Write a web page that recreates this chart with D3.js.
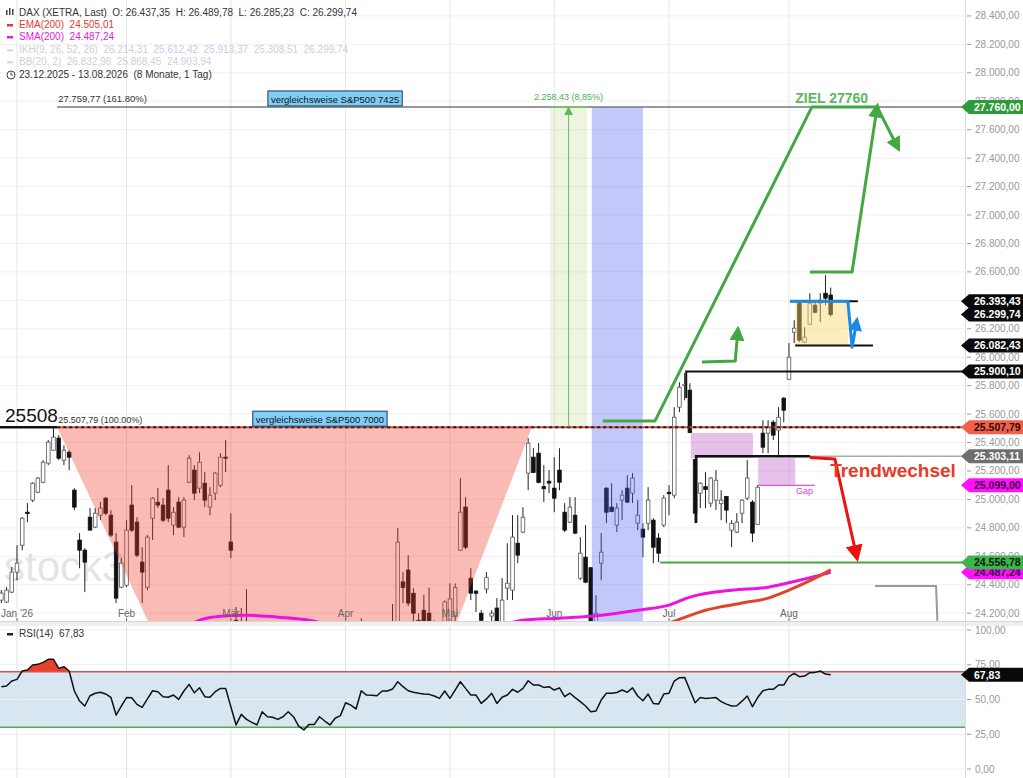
<!DOCTYPE html>
<html><head><meta charset="utf-8">
<script src="https://cdn.jsdelivr.net/npm/d3@7"></script>
<style>
body{margin:0;background:#fff;}
svg{display:block;font-family:"Liberation Sans",Arial,sans-serif;}
.pre{white-space:pre;}
</style>
</head><body>
<svg id="c" width="1023" height="778"></svg>
<script>
// ---------------- DATA ----------------
// daily candles [open, high, low, close], 23.12.2025 .. 13.08.2026
const ohlc = [
 [24292,24362,24271,24341],[24278,24383,24271,24362],[24348,24524,24341,24489],[24489,24678,24432,24552],[24678,24875,24643,24868],
 [24910,24974,24840,24900],[24995,25121,24981,25114],[25051,25157,25044,25150],[25121,25276,25114,25262],[25255,25417,25241,25403],
 [25346,25500,25346,25438],[25431,25452,25276,25290],[25276,25381,25241,25346],[25332,25346,25206,25297],[25065,25079,24925,24946],
 [24714,24763,24516,24643],[24643,24657,24348,24559],[24875,24939,24784,24784],[24805,24939,24798,24903],[24889,24981,24854,24939],
 [25009,25016,24889,24903],[24889,24925,24735,24749],[24700,24763,24271,24306],[24383,24587,24376,24552],[24397,24854,24383,24784],
 [24960,25100,24770,24784],[24840,24875,24594,24608],[24559,24664,24271,24489],[24383,24749,24362,24735],[24868,25016,24714,25009],
 [24980,25079,24939,24960],[24960,25009,24840,24854],[25065,25241,24840,24868],[24819,24946,24749,24910],[24981,25016,24798,24805],
 [24805,25016,24735,24995],[25121,25311,25114,25290],[25206,25241,24995,25044],[25079,25332,25044,25262],[25114,25192,24946,24995],
 [24946,25086,24889,25030],[25044,25192,24995,25185],[25100,25325,25086,25297],[25297,25417,25192,25290],[24700,24903,24587,24643],
 [24150,24243,23950,24000],[24020,24236,23900,24130],[24140,24369,23950,24060],[24050,24120,23800,23850],[23850,23900,23550,23600],
 [23600,23950,23550,23900],[23900,23950,23650,23700],[23700,23800,23550,23650],[23650,23700,23400,23450],[23450,23650,23400,23600],
 [23600,23850,23550,23800],[23800,23850,23500,23550],[23550,23600,23150,23200],[23200,23300,22900,23000],[23000,23300,22950,23250],
 [23250,23350,23050,23200],[23200,23550,23150,23500],[23500,23550,23250,23300],[23300,23350,23000,23100],[23100,23450,23050,23400],
 [23400,23600,23350,23550],[23550,23950,23500,23900],[23900,24000,23750,23850],[23850,23900,23650,23750],[23750,24165,23700,24100],
 [24100,24130,23900,24000],[24000,24080,23880,23980],[23980,24050,23850,23960],[23960,24120,23900,24080],[24080,24130,23950,24060],
 [24060,24264,24000,24140],[24140,24798,24100,24700],[24420,24489,24271,24380],[24503,24608,24250,24271],[24340,24376,24100,24200],
 [24150,24200,23950,24050],[24220,24330,24000,24120],[24200,24380,23980,24100],[24080,24150,23950,24120],[24100,24120,23980,24060],
 [24100,24290,24050,24280],[24120,24410,24050,24300],[24180,24410,24100,24380],[24643,25149,24640,24910],[24946,25016,24650,24664],
 [24446,24516,24292,24341],[24355,24362,24208,24340],[24200,24221,24100,24150],[24370,24489,24340,24450],[24180,24221,24050,24200],
 [24236,24306,24000,24100],[24120,24447,24050,24292],[24376,24692,24292,24411],[24362,24889,24292,24735],[24692,24889,24552,24608],
 [24770,24946,24763,24875],[25185,25431,25065,25396],[25297,25360,25185,25190],[25325,25396,25114,25120],[25090,25241,24981,25075],
 [25128,25206,25044,25115],[25079,25297,24910,25009],[25206,25360,25065,25121],[24910,24974,24770,24784],[24840,25016,24835,24946],
 [24889,25016,24755,24763],[24446,24735,24432,24622],[24594,24819,24411,24418],[24520,24520,24000,24080],[24100,24327,24000,24200],
 [24552,24763,24432,24629],[25079,25086,24833,24910],[24946,25114,24910,24915],[24819,24974,24770,24939],[24995,25065,24854,25030],
 [25079,25170,24974,24981],[25044,25185,24974,25150],[24833,24995,24784,24889],[24791,24833,24594,24735],[24833,25086,24784,24995],
 [24854,24868,24552,24664],[24728,24763,24559,24622],[24819,25030,24805,25009],[25050,25100,24889,25040],[25030,25649,25009,25578],
 [25649,25824,25613,25789],[25800,25888,25698,25810],[25768,25817,25466,25470],[25280,25280,24833,24903],[25044,25121,24939,25114],
 [25090,25192,24939,25070],[24974,25157,24946,25150],[24995,25206,24925,25135],[24970,25065,24854,24995],[25020,25020,24833,24925],
 [24784,24854,24664,24830],[24770,24903,24763,24840],[24903,25000,24833,24995],[25009,25276,24995,25150],[24981,24995,24700,24763],
 [24825,25100,24825,25086],[25466,25557,25325,25367],[25466,25557,25325,25508],[25543,25557,25417,25452],[25487,25649,25297,25578],
 [25712,25719,25543,25627],[25845,26099,25845,26000],[26176,26260,26099,26204],[26380,26387,26106,26120],[26106,26211,26099,26141],
 [26232,26450,26232,26380],[26366,26401,26310,26316],[26380,26450,26246,26401],[26450,26577,26366,26415],[26437.35,26489.78,26285.23,26299.74]
];
const rsi = [
 59.2,59.7,63.3,64.5,70.5,71.2,74.8,75.3,76.7,78.9,
 78.9,72.4,73.6,70.5,56.1,48.9,45.3,52.7,54.5,55.2,
 54.0,51.6,38.8,45.3,51.4,51.2,46.5,44.4,50.4,56.3,
 55.6,52.0,51.6,53.2,50.1,56.1,60.9,54.8,58.4,52.0,
 51.6,55.6,58.0,58.0,44.8,31.7,39.3,35.7,33.6,31.7,
 41.2,37.6,37.2,35.7,37.6,41.2,37.6,30.9,28.1,32.1,
 32.1,37.6,34.5,31.7,36.5,38.4,47.7,46.0,43.2,56.3,
 53.2,53.0,52.7,56.1,56.1,57.5,62.8,59.2,56.3,55.2,
 54.5,54.0,53.7,52.5,50.8,56.1,50.8,56.8,62.8,58.0,
 53.2,53.2,47.2,50.4,54.5,47.2,51.6,53.2,57.3,55.2,
 58.0,63.5,60.4,60.4,58.7,59.2,56.8,58.4,52.0,54.5,
 51.4,48.5,45.3,41.2,41.7,49.6,54.5,54.5,55.0,56.8,
 55.2,58.4,52.5,49.1,53.9,47.2,46.7,53.9,54.5,63.3,
 65.7,65.9,56.8,47.7,51.4,50.8,51.0,51.4,48.5,46.7,
 45.3,45.5,48.8,52.5,44.8,51.4,56.3,57.3,57.3,60.4,
 60.4,66.4,68.8,66.4,66.9,69.3,69.5,70.5,68.3,67.83
];
// moving averages [candle index, value]
const smaPts = [[30,24060],[36,24116],[38,24151],[42,24179],[47,24186],[53,24172],[59,24151],[63,24120],[80,24080],[96,24120],[100,24151],[107,24165],[113,24179],[115,24186],[122,24221],[128,24257],[132,24313],[140,24362],[147,24383],[153,24432],[159,24487.24]];
const emaPts = [[120,24050],[129,24144],[135,24221],[142,24271],[147,24306],[151,24362],[156,24446],[159,24505.01]];

const priceTicks = [24200,24400,24600,24800,25000,25200,25400,25600,25800,26000,26200,26400,26600,26800,27000,27200,27400,27600,27800,28000,28200,28400];
const rsiTicks = [0,25,50,75,100];
const rsiBands = [30,70];
const rsiLast = 67.83;
const monthNames = ["Jan '26","Feb","Mär","Apr","Mai","Jun","Jul","Aug"];
const startDate = "2025-12-23";
const holidays = ["2025-12-24","2025-12-25","2025-12-26","2025-12-31","2026-01-01","2026-04-03","2026-04-06","2026-05-01"];

// drawn analysis objects, in [candle index, price]
const fib161 = 27759.77, fib100 = 25507.79, fibStart = 10.7;
const fibMove = "2.258,43 (8,85%)";
const greenBand = [105.2, 112.3];
const blueBand = [113.2, 123.0];
const triangle = [[10.7,25508],[101.7,25508],[83.8,23800],[32.5,23800]];
const targetPath = [[115.3,25551],[125.3,25551],[155.4,27760],[168.1,27760]];
const targetPath2 = [[155.0,26600],[163.1,26600],[167.9,27760]];
const targetPath3 = [[167.9,27760],[171.9,27471]];
const smallArrow = [[134.3,25966],[140.7,25973],[141.2,26191]];
const resistance = [131.3, 25900.10, 25713];
const trendBracket = [[133.2,24834],[133.2,25303.11],[155.0,25303.11]];
const trendGrey = [149.3, 25303.11];
const redArrow = [[155.0,25295],[159.8,25285],[164.0,24595]];
const gap1 = [132.2,144.1,25467,25291];
const gap2 = [145.1,152.2,25290,25099];
const gapLine = [145.1,156.0,25099];
const consBox = [152.2,162.3,26393.43,26082.43];
const bluePath = [[151.2,26393.43],[162.3,26393.43],[163.1,26070],[164.0,26255]];
const consTopLine = [151.2,164.2,26393.43];
const consBotLine = [152.2,167.1,26082.43];
const supportLine = [126.3, 24556.78];
const greyPath = [[167.5,24391],[179.2,24391],[179.6,24000]];
const zielText = [152.2, 27760, "ZIEL 27760"];
const trendText = [158.9, 25158, "Trendwechsel"];
const gapText = [154, 25038, "Gap"];
const spBoxes = [[51.1, 27760, "vergleichsweise S&P500 7425"],[48.2, 25508, "vergleichsweise S&P500 7000"]];
const tagValues = [27760.00, 26393.43, 26299.74, 26082.43, 25900.10, 25507.79, 25303.11, 25099.00, 24487.24, 24556.78];

// ---------------- LAYOUT ----------------
const W=1023, H=778, PR=965, MB=621, RT=626;
const tagStyle = ["g","k","k","k","k","r","grey","m","m","g2"];
const de = d3.formatLocale({decimal:",", thousands:".", grouping:[3], currency:["","€"]});
const f2 = de.format(",.2f");

// trading dates
const dates = [];
{
  let d = d3.timeParse("%Y-%m-%d")(startDate);
  const hol = new Set(holidays);
  const fmt = d3.timeFormat("%Y-%m-%d");
  while (dates.length < ohlc.length) {
    const wd = d.getDay();
    if (wd !== 0 && wd !== 6 && !hol.has(fmt(d))) dates.push(new Date(d));
    d = d3.timeDay.offset(d, 1);
  }
}
const monthStarts = [];
dates.forEach((d,i)=>{ if (d.getFullYear()===2026 && (i===0 || dates[i-1].getMonth()!==d.getMonth())) monthStarts.push(i); });

const x = d3.scaleLinear().domain([0, ohlc.length-1]).range([1.35, 830.7]);
const y = d3.scaleLinear().domain([24145, 28512]).range([MB, 0]);
const ry = d3.scaleLinear().domain([0,100]).range([769, 630]);
const iR = x.invert(PR);

const svg = d3.select('#c');
const defs = svg.append('defs');
defs.append('clipPath').attr('id','cm').append('rect').attr('x',0).attr('y',0).attr('width',PR).attr('height',MB);
defs.append('clipPath').attr('id','cr').append('rect').attr('x',0).attr('y',RT).attr('width',PR).attr('height',H-RT);
function marker(id, color, s){
  defs.append('marker').attr('id',id).attr('viewBox','0 0 10 10').attr('refX',7).attr('refY',5)
    .attr('markerWidth',s).attr('markerHeight',s).attr('markerUnits','userSpaceOnUse').attr('orient','auto')
    .append('path').attr('d','M0,0L10,5L0,10z').attr('fill',color);
}
const GREEN = '#43a843', RED = '#f01010', BLUE = '#1e88e5';
marker('ag', GREEN, 15); marker('ar', RED, 17); marker('ab', BLUE, 14); marker('agt', '#5fb85f', 9);

svg.append('rect').attr('width',W).attr('height',H).attr('fill','#fff');

const line = d3.line().x(d=>x(d[0])).y(d=>y(d[1]));

// ---- main panel ----
const main = svg.append('g').attr('clip-path','url(#cm)');
main.selectAll('line.hg').data(priceTicks).join('line')
  .attr('x1',0).attr('x2',PR).attr('y1',d=>y(d)).attr('y2',d=>y(d)).attr('stroke','#f0f0f0');
main.selectAll('line.vg').data(monthStarts).join('line')
  .attr('x1',d=>x(d)).attr('x2',d=>x(d)).attr('y1',0).attr('y2',MB).attr('stroke','#e6e6e6');
main.append('text').attr('x',4).attr('y',581).attr('font-size',42).attr('fill','#000').attr('opacity',0.1).text('stock3');

// green measuring band (under candles)
main.append('rect').attr('x',x(greenBand[0])).attr('width',x(greenBand[1])-x(greenBand[0]))
  .attr('y',y(fib161)).attr('height',y(fib100)-y(fib161)).attr('fill','rgb(140,190,60)').attr('opacity',0.16);

// candles
const bw = 3.6;
const cg = main.append('g');
cg.selectAll('line').data(ohlc).join('line')
  .attr('x1',(d,i)=>x(i)).attr('x2',(d,i)=>x(i)).attr('y1',d=>y(d[1])).attr('y2',d=>y(d[2]))
  .attr('stroke','#222').attr('stroke-width',1);
cg.selectAll('rect').data(ohlc).join('rect')
  .attr('x',(d,i)=>x(i)-bw/2).attr('width',bw)
  .attr('y',d=>y(Math.max(d[0],d[3]))).attr('height',d=>Math.max(1,Math.abs(y(d[0])-y(d[3]))))
  .attr('fill',d=>d[3]>=d[0]?'#fff':'#111').attr('stroke',d=>d[3]>=d[0]?'#555':'#111').attr('stroke-width',0.8);

// translucent overlays
main.append('path').attr('d',line(triangle)+'Z').attr('fill','rgb(240,60,40)').attr('opacity',0.35);
main.append('rect').attr('x',x(blueBand[0])).attr('width',x(blueBand[1])-x(blueBand[0]))
  .attr('y',y(fib161)).attr('height',MB-y(fib161)).attr('fill','rgb(80,100,240)').attr('opacity',0.35);
[gap1,gap2].forEach(g=>main.append('rect').attr('x',x(g[0])).attr('width',x(g[1])-x(g[0]))
  .attr('y',y(g[2])).attr('height',y(g[3])-y(g[2])).attr('fill','rgb(190,100,200)').attr('opacity',0.4));
main.append('rect').attr('x',x(consBox[0])).attr('width',x(consBox[1])-x(consBox[0]))
  .attr('y',y(consBox[2])).attr('height',y(consBox[3])-y(consBox[2])).attr('fill','rgb(250,215,110)').attr('opacity',0.45);

// moving averages
const curve = d3.line().x(d=>x(d[0])).y(d=>y(d[1])).curve(d3.curveMonotoneX);
main.append('path').attr('d',curve(smaPts)).attr('fill','none').attr('stroke','#f010e0').attr('stroke-width',3);
main.append('path').attr('d',curve(emaPts)).attr('fill','none').attr('stroke','#e0452a').attr('stroke-width',3);

// fib levels
main.append('line').attr('x1',x(fibStart)).attr('x2',PR).attr('y1',y(fib161)).attr('y2',y(fib161)).attr('stroke','#777').attr('stroke-width',1.6);
main.append('line').attr('x1',0).attr('x2',x(fibStart)).attr('y1',y(fib100)).attr('y2',y(fib100)).attr('stroke','#111').attr('stroke-width',2.5);
main.append('line').attr('x1',x(fibStart)).attr('x2',PR).attr('y1',y(fib100)).attr('y2',y(fib100)).attr('stroke','#d84a3a').attr('stroke-width',2);
main.append('line').attr('x1',x(fibStart)).attr('x2',PR).attr('y1',y(fib100)).attr('y2',y(fib100)).attr('stroke','#222').attr('stroke-width',2).attr('stroke-dasharray','3,3');

// measuring arrow
const mid = (greenBand[0]+greenBand[1])/2;
main.append('line').attr('x1',x(greenBand[0])).attr('x2',x(greenBand[1])).attr('y1',y(fib161)).attr('y2',y(fib161)).attr('stroke','#7cc46c').attr('stroke-width',1.5);
main.append('line').attr('x1',x(mid)).attr('x2',x(mid)).attr('y1',y(fib100)).attr('y2',y(fib161)+2).attr('stroke','#6dbb5d').attr('stroke-width',1).attr('marker-end','url(#agt)');

// levels & brackets
main.append('path').attr('d',line([[resistance[0],resistance[2]],[resistance[0],resistance[1]],[iR,resistance[1]]])).attr('fill','none').attr('stroke','#111').attr('stroke-width',2);
main.append('line').attr('x1',x(trendGrey[0])).attr('x2',PR).attr('y1',y(trendGrey[1])).attr('y2',y(trendGrey[1])).attr('stroke','#aaa').attr('stroke-width',1.5);
main.append('path').attr('d',line(trendBracket)).attr('fill','none').attr('stroke','#111').attr('stroke-width',2.5);
main.append('line').attr('x1',x(supportLine[0])).attr('x2',PR).attr('y1',y(supportLine[1])).attr('y2',y(supportLine[1])).attr('stroke','#43a843').attr('stroke-width',2);
main.append('line').attr('x1',x(gapLine[0])).attr('x2',x(gapLine[1])).attr('y1',y(gapLine[2])).attr('y2',y(gapLine[2])).attr('stroke','#e84ee8').attr('stroke-width',1.2);
main.append('line').attr('x1',x(consTopLine[0])).attr('x2',x(consTopLine[1])).attr('y1',y(consTopLine[2])).attr('y2',y(consTopLine[2])).attr('stroke','#111').attr('stroke-width',2);
main.append('line').attr('x1',x(consBotLine[0])).attr('x2',x(consBotLine[1])).attr('y1',y(consBotLine[2])).attr('y2',y(consBotLine[2])).attr('stroke','#111').attr('stroke-width',2);
main.append('path').attr('d',line(greyPath)).attr('fill','none').attr('stroke','#999').attr('stroke-width',2);

// drawn arrows
const pth = (pts, col, w, mk) => { const p = main.append('path').attr('d',line(pts)).attr('fill','none').attr('stroke',col).attr('stroke-width',w).attr('stroke-linejoin','round'); if(mk) p.attr('marker-end',`url(#${mk})`); };
pth(targetPath, GREEN, 3);
pth(targetPath2, GREEN, 3, 'ag');
pth(targetPath3, GREEN, 3, 'ag');
pth(smallArrow, GREEN, 3, 'ag');
pth(redArrow, RED, 3, 'ar');
pth(bluePath, BLUE, 3, 'ab');

// texts
main.append('text').attr('x',x(fibStart)+1).attr('y',y(fib161)-5).attr('font-size',9.5).attr('fill','#333').text(f2(fib161)+' (161.80%)');
main.append('text').attr('x',5).attr('y',y(fib100)-5).attr('font-size',19).attr('fill','#111').text(d3.format('d')(Math.round(fib100)));
main.append('text').attr('x',x(fibStart)+1).attr('y',y(fib100)-4).attr('font-size',9).attr('fill','#333').text(f2(fib100)+' (100.00%)');
main.append('text').attr('x',x(mid)).attr('y',y(fib161)-7).attr('text-anchor','middle').attr('font-size',9).attr('fill','#4caf50').text(fibMove);
main.append('text').attr('x',x(zielText[0])).attr('y',y(zielText[1])-4).attr('font-size',14).attr('font-weight','bold').attr('fill','#5cb85c').text(zielText[2]);
main.append('text').attr('x',x(trendText[0])).attr('y',y(trendText[1])).attr('font-size',19).attr('font-weight','bold').attr('fill','#e8392b').text(trendText[2]);
main.append('text').attr('x',x(gapText[0])).attr('y',y(gapText[1])).attr('text-anchor','middle').attr('font-size',9).attr('fill','#e040e0').text(gapText[2]);
spBoxes.forEach(b=>{
  const g = main.append('g');
  const t = g.append('text').attr('x',x(b[0])+3).attr('y',y(b[1])-4).attr('font-size',9.5).attr('fill','#111').text(b[2]);
  const w = t.node().getComputedTextLength()+6;
  g.insert('rect','text').attr('x',x(b[0])).attr('y',y(b[1])-16).attr('width',w).attr('height',15).attr('fill','#80cdf5').attr('stroke','#1b3768').attr('stroke-width',1);
});

// x labels
main.selectAll('text.ml').data(monthStarts).join('text').attr('class','ml')
  .attr('x',d=>x(d)).attr('y',617).attr('text-anchor','middle').attr('font-size',10).attr('fill','#666')
  .text((d,i)=>monthNames[i]);
main.selectAll('line.mt').data(monthStarts).join('line')
  .attr('x1',d=>x(d)).attr('x2',d=>x(d)).attr('y1',618).attr('y2',MB).attr('stroke','#666');

// panel separator
svg.append('rect').attr('x',0).attr('y',MB).attr('width',W).attr('height',RT-MB).attr('fill','#efefef');
svg.append('line').attr('x1',0).attr('x2',W).attr('y1',MB+0.5).attr('y2',MB+0.5).attr('stroke','#d5d5d5');

// ---- RSI panel ----
const rp = svg.append('g').attr('clip-path','url(#cr)');
rp.append('rect').attr('x',0).attr('width',PR).attr('y',ry(rsiBands[1])).attr('height',ry(rsiBands[0])-ry(rsiBands[1])).attr('fill','#d7e6f0');
rp.selectAll('line.hg').data(rsiTicks).join('line').attr('x1',0).attr('x2',PR).attr('y1',d=>ry(d)).attr('y2',d=>ry(d)).attr('stroke','#eee');
rp.selectAll('line.vg').data(monthStarts).join('line').attr('x1',d=>x(d)).attr('x2',d=>x(d)).attr('y1',RT).attr('y2',H).attr('stroke','#e3e3e3');
rp.append('path').datum(rsi).attr('d',d3.area().x((d,i)=>x(i)).y0(ry(rsiBands[1])).y1(d=>ry(Math.max(d,rsiBands[1])))).attr('fill','#e8402a');
rp.append('line').attr('x1',0).attr('x2',PR).attr('y1',ry(rsiBands[1])).attr('y2',ry(rsiBands[1])).attr('stroke','#e05048').attr('stroke-width',1.6);
rp.append('line').attr('x1',0).attr('x2',PR).attr('y1',ry(rsiBands[0])).attr('y2',ry(rsiBands[0])).attr('stroke','#4caf50').attr('stroke-width',1.6);
rp.append('path').datum(rsi).attr('d',d3.line().x((d,i)=>x(i)).y(d=>ry(d))).attr('fill','none').attr('stroke','#111').attr('stroke-width',1.5).attr('stroke-linejoin','round');
rp.append('rect').attr('x',7).attr('y',633).attr('width',6).attr('height',2.5).attr('fill','#222');
rp.append('text').attr('x',19).attr('y',637).attr('font-size',10).attr('fill','#333').text('RSI(14)  ' + de.format('.2f')(rsiLast)).attr('class','pre');

// ---- right axes ----
svg.append('line').attr('x1',PR+0.5).attr('x2',PR+0.5).attr('y1',0).attr('y2',H).attr('stroke','#dcdcdc');
const ax = svg.append('g');
ax.selectAll('line.pt').data(priceTicks).join('line').attr('x1',PR+2).attr('x2',PR+6).attr('y1',d=>y(d)).attr('y2',d=>y(d)).attr('stroke','#999');
ax.selectAll('text.pt').data(priceTicks).join('text').attr('x',PR+10).attr('y',d=>y(d)+3.5).attr('font-size',10).attr('fill','#999').text(d=>f2(d));
ax.selectAll('line.rt').data(rsiTicks).join('line').attr('x1',PR+2).attr('x2',PR+6).attr('y1',d=>ry(d)).attr('y2',d=>ry(d)).attr('stroke','#999');
ax.selectAll('text.rt').data(rsiTicks).join('text').attr('x',PR+10).attr('y',d=>ry(d)+3.5).attr('font-size',10).attr('fill','#999').text(d=>f2(d));

const tagCol = {g:['#2e9a3a','#fff'],k:['#0a0a0a','#fff'],r:['#f0604a','#2a0a05'],grey:['#6e6e6e','#fff'],m:['#ff10ff','#3a003a'],g2:['#3cb54a','#0a1a0a']};
function tag(yy, label, st){
  const [bg,fg] = tagCol[st];
  const h = 7;
  ax.append('path').attr('d',`M${PR-4},${yy} L${PR+4},${yy-h} L${W},${yy-h} L${W},${yy+h} L${PR+4},${yy+h} Z`).attr('fill',bg);
  ax.append('text').attr('x',PR+9).attr('y',yy+3.8).attr('font-size',10.5).attr('font-weight','bold').attr('fill',fg).text(label);
}
const order = d3.range(tagValues.length);
order.forEach(k=>tag(y(tagValues[k]), f2(tagValues[k]), tagStyle[k]));
tag(ry(rsiLast), de.format('.2f')(rsiLast), 'k');

// ---- legend ----
const lg = svg.append('g').attr('font-size',10);
[[6,10,1.5,5],[9,8,1.5,7],[12,9,1.5,6]].forEach(r=>lg.append('rect').attr('x',r[0]).attr('y',r[1]).attr('width',r[2]).attr('height',r[3]).attr('fill','#444'));
lg.append('text').attr('class','pre').attr('x',19).attr('y',16).attr('fill','#333').text('DAX (XETRA, Last)  O: 26.437,35  H: 26.489,78  L: 26.285,23  C: 26.299,74');
lg.append('rect').attr('x',7).attr('y',24).attr('width',6).attr('height',2.5).attr('fill','#e53935');
lg.append('text').attr('class','pre').attr('x',19).attr('y',28).attr('fill','#e53935').text('EMA(200)  24.505,01');
lg.append('rect').attr('x',7).attr('y',36).attr('width',6).attr('height',2.5).attr('fill','#e020e0');
lg.append('text').attr('class','pre').attr('x',19).attr('y',40).attr('fill','#e020e0').text('SMA(200)  24.487,24');
lg.append('rect').attr('x',7).attr('y',49).attr('width',6).attr('height',2.5).attr('fill','#ddd');
const t4 = lg.append('text').attr('class','pre').attr('x',19).attr('y',53).attr('fill','#cfcfcf');
t4.append('tspan').text('IKH(9, 26, 52, 26)  26.214,31  ');
t4.append('tspan').attr('fill','#c9c9ea').text('25.612,42  25.913,37  ');
t4.append('tspan').text('25.308,51  26.299,74');
lg.append('rect').attr('x',7).attr('y',61).attr('width',6).attr('height',2.5).attr('fill','#ddd');
lg.append('text').attr('class','pre').attr('x',19).attr('y',65).attr('fill','#cfcfcf').text('BB(20, 2)  26.832,98  25.868,45  24.903,94');
lg.append('circle').attr('cx',11).attr('cy',75).attr('r',4).attr('fill','none').attr('stroke','#444').attr('stroke-width',1);
lg.append('path').attr('d','M11,72.5V75H13').attr('fill','none').attr('stroke','#444').attr('stroke-width',0.9);
lg.append('text').attr('class','pre').attr('x',19).attr('y',78).attr('fill','#333').text('23.12.2025 - 13.08.2026  (8 Monate, 1 Tag)');
</script>
</body></html>
